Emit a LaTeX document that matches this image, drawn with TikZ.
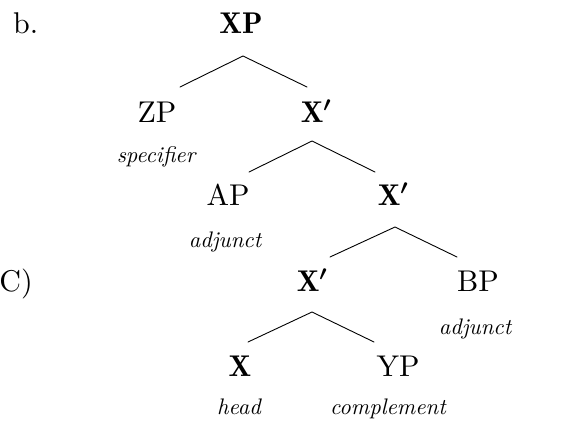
\RequirePackage{fix-cm}
\documentclass[tikz,border=0pt]{standalone}
\usepackage{bm}
\usepackage{fontspec}
\setmainfont{lmroman10-regular.otf}[ItalicFont=lmroman10-italic.otf, BoldFont=lmromandemi10-regular.otf]
\tikzset{
  cat/.style={inner sep=0pt, anchor=base, font=\fontsize{30}{34}\selectfont},
  bcat/.style={cat, font=\fontsize{30}{34}\selectfont\bfseries},
  role/.style={inner sep=0pt, anchor=base, font=\fontsize{22.5}{26}\selectfont\itshape},
  branch/.style={line width=0.9pt, line cap=round}
}
\newcommand{\xbar}{X${}^{\bm{\prime}}$}
\begin{document}
\begin{tikzpicture}[x=1pt,y=-1pt]
\useasboundingbox (0,0) rectangle (572,426);
% labels
\node[cat, anchor=base west] (lab) at (13,33) {b.};
\node[cat, anchor=base east] (lc) at (33,291) {(C)};
% tree nodes
\node[bcat] (XP) at (241,33) {XP};
\node[cat] (ZP) at (157,122) {ZP};
\node[bcat] (Xb2) at (316,122) {\xbar};
\node[role] (spec) at (156,162) {specifier};
\node[cat] (AP) at (228,205) {AP};
\node[bcat] (Xb3) at (393,205) {\xbar};
\node[role] (adjA) at (225,247) {adjunct};
\node[bcat] (Xb4) at (312,291) {\xbar};
\node[cat] (BP) at (478,291) {BP};
\node[role] (adjB) at (475,334) {adjunct};
\node[bcat] (X) at (240,376) {X};
\node[cat] (YP) at (398,376) {YP};
\node[role] (hd) at (239,414) {head};
\node[role] (comp) at (388,414) {complement};
% branch points
\coordinate (a1) at (243,56);  \coordinate (l1) at (180,87);  \coordinate (r1) at (307,87);
\coordinate (a2) at (312,141); \coordinate (l2) at (249,172); \coordinate (r2) at (375,172);
\coordinate (a3) at (395,227); \coordinate (l3) at (330,257); \coordinate (r3) at (457,257);
\coordinate (a4) at (312,312); \coordinate (l4) at (248,342); \coordinate (r4) at (374,342);
\draw[branch] (l1) -- (a1) -- (r1);
\draw[branch] (l2) -- (a2) -- (r2);
\draw[branch] (l3) -- (a3) -- (r3);
\draw[branch] (l4) -- (a4) -- (r4);
\end{tikzpicture}
\end{document}
